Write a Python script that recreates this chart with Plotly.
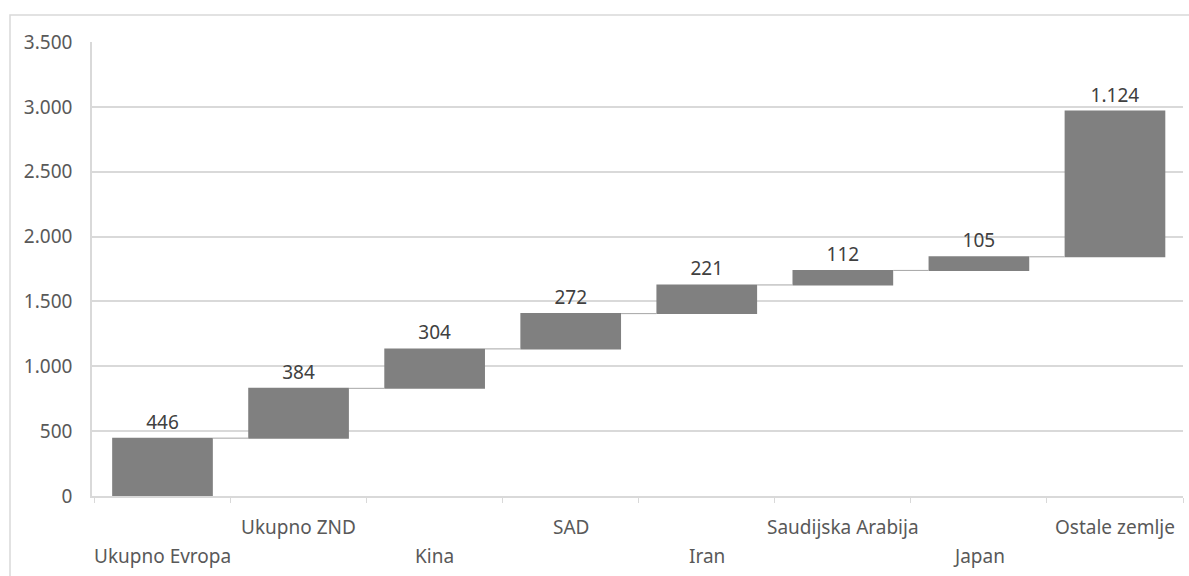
import plotly.graph_objects as go

# Categories and their contributions
categories = ["Ukupno Evropa", "Ukupno ZND", "Kina", "SAD", "Iran",
              "Saudijska Arabija", "Japan", "Ostale zemlje"]
values = [446, 384, 304, 272, 221, 112, 105, 1124]
y_ticks = [0, 500, 1000, 1500, 2000, 2500, 3000, 3500]

W, H = 1189, 576
ML, MR, MT, MB = 92, 6, 42, 80
PW, PH = W - ML - MR, H - MT - MB

FONT = "Noto Sans"
AXIS_GRAY = "#595959"
GRID = "#d9d9d9"


def fmt(v):
    return f"{v:,}".replace(",", ".")


fig = go.Figure()
fig.add_trace(go.Waterfall(
    x=categories,
    y=values,
    measure=["relative"] * len(values),
    text=[fmt(v) for v in values],
    textposition="outside",
    textfont=dict(family=FONT, size=19, color="#404040"),
    increasing=dict(marker=dict(color="#808080", line=dict(width=0))),
    connector=dict(mode="between", line=dict(color="#a6a6a6", width=1)),
    cliponaxis=False,
    showlegend=False,
))

# Staggered category labels: alternate rows below the axis
annotations = []
for i, c in enumerate(categories):
    offset = 60 if i % 2 == 0 else 31
    annotations.append(dict(
        x=c, xref="x", y=-offset / PH, yref="paper",
        text=c, showarrow=False, yanchor="middle", xanchor="center",
        font=dict(family=FONT, size=19, color=AXIS_GRAY),
    ))

# Outer chart frame
shapes = [dict(
    type="rect", xref="paper", yref="paper",
    x0=(10 - ML) / PW, x1=(W + 20 - ML) / PW,
    y0=(MT + PH - (H + 20)) / PH, y1=(MT + PH - 15) / PH,
    line=dict(color=GRID, width=1.5), layer="below",
)]

fig.update_layout(
    width=W, height=H,
    margin=dict(l=ML, r=MR, t=MT, b=MB),
    paper_bgcolor="white", plot_bgcolor="white",
    separators=",.",
    waterfallgap=0.26,
    font=dict(family=FONT, size=19, color=AXIS_GRAY),
    annotations=annotations,
    shapes=shapes,
    xaxis=dict(
        type="category",
        showticklabels=False,
        ticks="outside", tickson="boundaries", ticklen=5,
        tickcolor=GRID, showline=True, linecolor=GRID, linewidth=1.5,
        showgrid=False, fixedrange=True,
    ),
    yaxis=dict(
        range=[0, 3500],
        tickvals=y_ticks,
        tickformat=",d",
        showgrid=True, gridcolor=GRID, gridwidth=1.5,
        showline=True, linecolor=GRID, linewidth=1.5,
        zeroline=False,
        ticklabelstandoff=14,
        tickfont=dict(family=FONT, size=19, color=AXIS_GRAY),
    ),
)

fig.write_html("out.html")
